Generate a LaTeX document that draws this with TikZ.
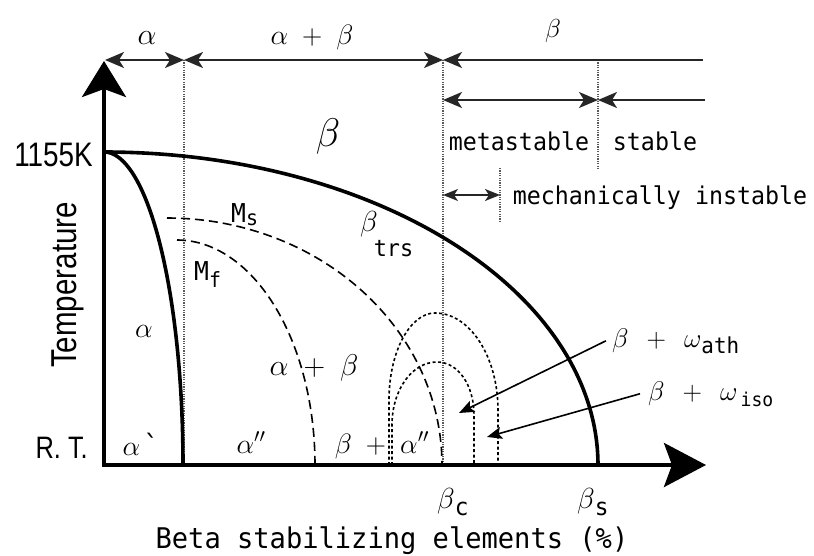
\RequirePackage{fix-cm}
\documentclass[tikz,border=0pt]{standalone}
\usepackage{fontspec}
\newfontfamily\gth[FakeStretch=0.95]{DejaVu Sans Mono}
\newfontfamily\cnd[FakeStretch=0.82]{Liberation Sans}
\usetikzlibrary{arrows.meta}
\newcommand\fs[1]{\fontsize{#1}{#1}\selectfont}
\newcommand\bplus{\mskip5mu+\mskip5mu}
\newcommand\wplus{\mskip8mu+\mskip8mu}
\begin{document}
\begin{tikzpicture}[x=1pt,y=-1pt,
  lbl/.style={inner sep=0pt},
  axis/.style={line width=4pt, line join=miter,
    {Stealth[length=36pt,width=44pt,inset=8pt]}-{Stealth[length=42pt,width=44pt,inset=8pt]}},
  bound/.style={line width=3.6pt},
  dsh/.style={line width=1.6pt, dash pattern=on 9pt off 5pt},
  dom/.style={line width=1.6pt, dash pattern=on 3pt off 2.5pt},
  guide/.style={line width=1.2pt, black!65, dash pattern=on 1.2pt off 1.2pt},
  row/.style={line width=1.8pt, black!85},
  tp/.tip={Stealth[length=19pt,width=16pt,inset=5pt]},
  sm/.tip={Stealth[length=15pt,width=12pt,inset=4pt]},
  ptr/.style={line width=1.6pt, -{Stealth[length=15pt,width=12pt,inset=3pt]}}
]
\useasboundingbox (0,0) rectangle (814,556);

% coordinates
\coordinate (O) at (104,465);
\coordinate (ytip) at (104,61);
\coordinate (xtip) at (706,465);
\coordinate (t0) at (105,60);
\coordinate (t1) at (184,60);
\coordinate (t2) at (443,60);
\coordinate (t3) at (703,60);
\coordinate (r0) at (443,100);
\coordinate (r1) at (598,100);
\coordinate (r2) at (705,100);
\coordinate (m0) at (443,195);
\coordinate (m1) at (500,195);
\coordinate (g1) at (184,465);
\coordinate (g2) at (443,465);
\coordinate (g3) at (598,170);
\coordinate (g4a) at (500,168);
\coordinate (g4b) at (500,222);
\coordinate (tipA) at (459,413);
\coordinate (tipI) at (487,437);

% guide lines
\draw[guide] (t1) -- (g1);
\draw[guide] (t2) -- (g2);
\draw[guide] (t3 -| g3) -- (g3);
\draw[guide] (g4a) -- (g4b);

% range arrows
\draw[row, tp-tp] (t0) -- (t1);
\draw[row, tp-tp] (t1) -- (t2);
\draw[row, tp-] (t2) -- (t3);
\draw[row, tp-tp] (r0) -- (r1);
\draw[row, tp-] (r1) -- (r2);
\draw[row, sm-sm] (m0) -- (m1);

% phase boundaries
\draw[bound] plot[domain=0:90, samples=90, smooth] ({104+494*cos(\x)},{465-313*sin(\x)});
\draw[bound] plot[domain=0:90, samples=90, smooth] ({104+79*cos(\x)},{465-313*sin(\x)});
\draw[dsh] plot[domain=90:0, samples=70, smooth] ({167+275*cos(\x)},{465-247*sin(\x)});
\draw[dsh] plot[domain=90:0, samples=70, smooth] ({177+138*cos(\x)},{465-225*sin(\x)});

% omega domes
\draw[dom] (389,465) -- (389,400) .. controls (389,352) and (410,313) .. (435,313)
  .. controls (470,313) and (498,357) .. (498,410) -- (498,465);
\draw[dom] (392,465) -- (392,425) .. controls (392,390) and (412,362) .. (437,362)
  .. controls (458,362) and (474,385) .. (474,415) -- (474,465);

% axes
\draw[axis] (ytip) -- (O) -- (xtip);

% labels
\node[lbl,anchor=base] (a1) at (147,45) {\fs{30}$\alpha$};
\node[lbl,anchor=base] (a2) at (312,45) {\fs{28}$\alpha\bplus\beta$};
\node[lbl,anchor=base] (b1) at (553,38) {\fs{26}$\beta$};
\node[lbl,anchor=base] (meta) at (519,151) {\gth\fs{24.5}metastable};
\node[lbl,anchor=base] (stab) at (655,151) {\gth\fs{24.5}stable};
\node[lbl,anchor=base] (mech) at (660,205) {\gth\fs{24.5}mechanically instable};
\node[lbl,anchor=base east] (k) at (93,167) {\cnd\fs{34}1155K};
\node[lbl,anchor=base east] (rt) at (88,458) {\cnd\fs{31}R. T.};
\node[lbl,anchor=base,rotate=90] (temp) at (76,285) {\cnd\fs{36}Temperature};
\node[lbl,anchor=base] (bb) at (328,147) {\fs{40}$\beta$};
\node[lbl,anchor=base west] (btrs) at (360,232) {\fs{29}$\beta$\hspace{-4pt}\raisebox{-25pt}{\gth\fs{23}trs}};
\node[lbl,anchor=base west] (ms) at (231,223) {\gth\fs{26}M\raisebox{-2pt}{\fs{21}s}};
\node[lbl,anchor=base west] (mf) at (194,280) {\gth\fs{26}M\raisebox{-7pt}{\fs{21}f}};
\node[lbl,anchor=base] (a3) at (144,337) {\fs{28}$\alpha$};
\node[lbl,anchor=base] (a4) at (314,375) {\fs{30}$\alpha\bplus\beta$};
\node[lbl,anchor=base] (a5) at (141,455) {\fs{28}$\alpha$\hspace{3pt}{\gth\symbol{96}}};
\node[lbl,anchor=base] (a6) at (251,453) {\fs{28}$\alpha''$};
\node[lbl,anchor=base] (a7) at (382,453) {\fs{28}$\beta\bplus\alpha''$};
\node[lbl,anchor=base west] (bc) at (437,508) {\fs{29}$\beta$\raisebox{-7pt}{\gth\fs{24}c}};
\node[lbl,anchor=base west] (bs) at (577,508) {\fs{29}$\beta$\raisebox{-7pt}{\gth\fs{24}s}};
\node[lbl,anchor=base] (xl) at (392,548) {\gth\fs{28.5}Beta stabilizing elements (\%)};
\node[inner ysep=0pt,inner xsep=6pt,anchor=base west] (ath) at (606,347)
  {\fs{27}$\beta\wplus\omega$\raisebox{-6pt}{\gth\fs{22}ath}};
\node[inner ysep=0pt,inner xsep=8pt,anchor=base west] (iso) at (640,400)
  {\fs{27}$\beta\wplus\omega$\raisebox{-6pt}{\gth\fs{19}\,iso}};

% pointers
\draw[ptr] (ath.west) -- (tipA);
\draw[ptr] (iso.west) -- (tipI);
\end{tikzpicture}
\end{document}
